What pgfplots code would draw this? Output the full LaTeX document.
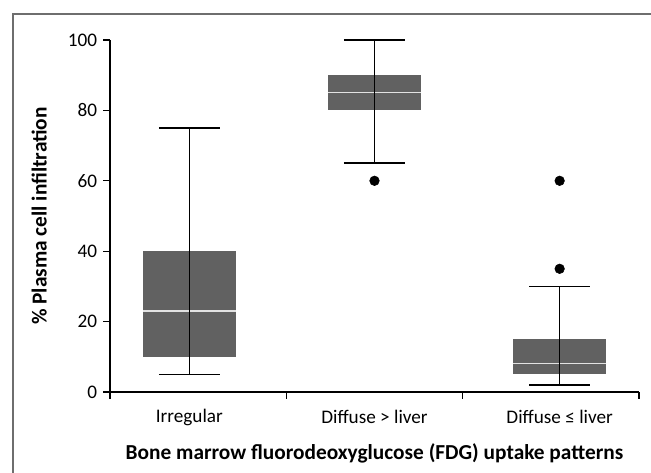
\documentclass[border=0pt]{standalone}
\usepackage{fontspec}
\setmainfont{Carlito}
\usepackage{pgfplots}
\pgfplotsset{compat=1.18}
\usepgfplotslibrary{statistics}
\definecolor{boxgray}{HTML}{616161}
\definecolor{medgray}{HTML}{E2E2E2}
\definecolor{framegray}{HTML}{6E6E6E}

\begin{document}
\fontsize{13.5pt}{16pt}\selectfont
\begin{tikzpicture}
\useasboundingbox (-82.5pt,-60.75pt) rectangle (405.75pt,294pt);
\draw[framegray, line width=1.3pt] (-72.75pt,-80pt) -- (-72.75pt,283.5pt) -- (430pt,283.5pt);
\begin{axis}[
  at={(0,0)}, anchor=south west,
  scale only axis,
  width=396.75pt, height=264pt,
  xmin=-0.5, xmax=2.5,
  ymin=0, ymax=100,
  ytick={0,20,40,60,80,100},
  xtick={-0.5,0.5,1.5,2.5},
  xticklabels={},
  extra x ticks={-0.05,1,2.05},
  extra x tick labels={Irregular, Diffuse > liver, Diffuse ≤ liver},
  extra x tick style={major tick length=0pt,
    tick label style={anchor=center, yshift=-19pt}},
  axis lines=left,
  axis line style={-, line width=0.9pt},
  tick style={black, line width=0.9pt},
  tick align=outside,
  major tick length=5pt,
  /pgf/number format/assume math mode=true,
  ticklabel style={font=\fontsize{14.4pt}{16pt}\selectfont},
  xlabel={\bfseries Bone marrow fluorodeoxyglucose (FDG) uptake patterns},
  xlabel style={at={(axis description cs:0.5,0)}, anchor=center, yshift=-46pt, font=\fontsize{16pt}{18pt}\selectfont},
  ylabel={\bfseries \% Plasma cell infiltration},
  ylabel style={at={(axis description cs:-0.134,0.5)}, anchor=center, font=\fontsize{16pt}{18pt}\selectfont},
  clip=false,
  boxplot/draw direction=y,
  boxplot/every box/.style={draw=none, fill=boxgray},
  boxplot/every whisker/.style={black, line width=1.1pt},
  boxplot/every median/.style={medgray, line width=0.9pt},
]
% Irregular
\addplot[boxplot prepared={lower whisker=5, lower quartile=10, median=23,
  upper quartile=40, upper whisker=75, draw position=-0.05,
  box extend=0.527, whisker extend=0.346}] coordinates {};
\addplot[black, line width=1.1pt] coordinates {(-0.05,5) (-0.05,75)};
% Diffuse > liver
\addplot[boxplot prepared={lower whisker=65, lower quartile=80, median=85,
  upper quartile=90, upper whisker=100, draw position=1,
  box extend=0.527, whisker extend=0.346}] coordinates {};
\addplot[black, line width=1.1pt] coordinates {(1,65) (1,100)};
% Diffuse <= liver
\addplot[boxplot prepared={lower whisker=2, lower quartile=5, median=8,
  upper quartile=15, upper whisker=30, draw position=2.05,
  box extend=0.527, whisker extend=0.346}] coordinates {};
\addplot[black, line width=1.1pt] coordinates {(2.05,2) (2.05,30)};
% outliers
\addplot[only marks, mark=*, mark size=3.6pt, black] coordinates {(1,60) (2.05,60) (2.05,35)};
\end{axis}
\end{tikzpicture}
\end{document}
